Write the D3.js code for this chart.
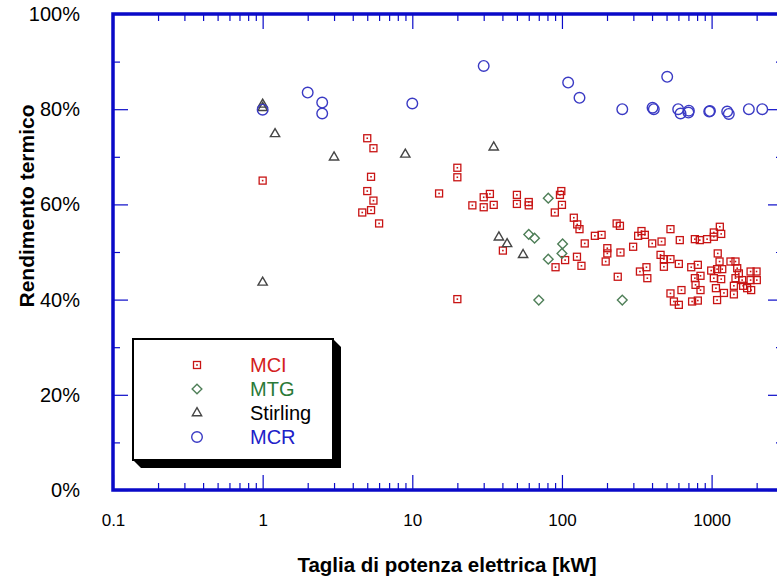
<!DOCTYPE html>
<html>
<head>
<meta charset="utf-8">
<script src="https://cdn.jsdelivr.net/npm/d3@7/dist/d3.min.js"></script>
<style>
html,body{margin:0;padding:0;background:#fff;}
svg{display:block;font-family:Arial,"Liberation Sans",sans-serif;}
</style>
</head>
<body>
<svg id="chart" width="777" height="579"></svg>
<script>
// ---- data (x = kW, y = %) ----
const seriesNames = ["MCI", "MTG", "Stirling", "MCR"];
const mciPoints = [
  [1.0,65],[5.0,73.9],[5.5,71.8],[5.3,65.8],[5.0,62.8],[5.5,60.8],[5.3,58.8],[4.63,58.3],[6.0,56],
  [15.1,62.3],[20,67.7],[20,65.7],[20,40.1],[25.2,59.8],[30,61.5],[33,62.2],[30,59.4],[35,59.9],
  [50,62],[50,60.1],[40.3,50.3],[60,60.5],[60,59.8],[99,62.8],[97,62],[100,59.9],[89.6,58.3],
  [120,57.2],[126.5,55.8],[131,54.8],[142,51.8],[166,53.4],[184,53.6],[201,50.8],[201,49.7],[196,48],
  [232,56],[244,55.5],[246,49.9],[236,44.8],[126,49],[135,47.1],[105,48.3],[90.6,46.8],
  [299,51.1],[323,53.4],[358,53.6],[340,54.4],[401,51.8],[463,52.2],[531,54.8],[613,52.5],[834,52.5],
  [773,52.7],[933,52.7],[1035,53.2],[1035,54.1],[1135,55.3],[1159,53.8],
  [332,45.9],[367,46.8],[372,44.5],[456,49.4],[480,48.5],[531,48.5],[480,46.9],[604,47.5],[731,46.8],
  [809,47.3],[773,44.5],[843,45],[781,43.1],[843,42],[531,41.3],[560,39.6],[604,38.9],[629,42],
  [741,39.6],[809,39.8],[1088,39.9],[1099,49.7],[1130,48],[994,46.1],[1088,46.4],[1178,46.4],
  [1035,44.5],[1159,44.3],[1069,42.4],[1209,41.4],[1409,41.1],[1337,48],[1444,48],[1483,46.6],
  [1521,45.5],[1444,44.5],[1409,42.9],[1600,44.1],[1624,42.9],[1728,42.4],[1838,42],[1822,45.9],
  [1997,45.9],[1822,44.1],[2005,44.1]
];
const mtgPoints = [
  [81,61.3],[60,53.7],[65.6,52.9],[101,51.7],[81,48.5],[100,49.7],[70,39.9],[253,39.9]
];
const stirlingPoints = [
  [1.0,81],[1.0,80.3],[1.21,74.8],[3.0,69.9],[8.98,70.5],[35,72],[37.9,53.1],[43,51.7],[55,49.4],[1.0,43.6]
];
const mcrPoints = [
  [1.0,79.9],[2,83.5],[2.5,81.4],[2.5,79.1],[10,81.2],[30,89.1],[110,85.6],[131,82.4],[253,80],
  [403,80.3],[411,80],[505,86.8],[598,80],[620,79.1],[705,79.7],[700,79.3],[964,79.5],[975,79.6],
  [1271,79.5],[1303,79],[1774,80],[2180,80]
];
const xMajorTicks = [0.1, 1, 10, 100, 1000];
const xTickLabels = ["0.1", "1", "10", "100", "1000"];
const yMajorTicks = [0, 20, 40, 60, 80, 100];
const yTickLabels = ["0%", "20%", "40%", "60%", "80%", "100%"];
const yMinorTicks = [10, 30, 50, 70, 90];
const xTitle = "Taglia di potenza elettrica [kW]";
const yTitle = "Rendimento termico";

// ---- layout ----
const L = 113, T = 14, R = 783, B = 490;
const axisBlue = "#0a0ac8";
const svg = d3.select("#chart");

const x = d3.scaleLog().domain([0.1, 3000]).range([L, R]);
const y = d3.scaleLinear().domain([0, 100]).range([B, T]);

const xMinorTicks = [];
[0.1, 1, 10, 100, 1000].forEach(d => { for (let m = 2; m <= 9; m++) { const v = d * m; if (v <= 3000) xMinorTicks.push(v); } });

function styleAxis(g) {
  g.select(".domain").remove();
  g.selectAll(".tick line").attr("stroke", axisBlue).attr("stroke-width", 1.2);
}

// bottom axis (ticks inward)
svg.append("g").attr("transform", `translate(0,${B})`)
  .call(d3.axisBottom(x).tickValues(xMajorTicks).tickSizeInner(-15).tickSizeOuter(0).tickFormat((d, i) => xTickLabels[i]).tickPadding(24))
  .call(styleAxis)
  .call(g => g.selectAll("text").attr("fill", "#000").style("font-size", "17px").style("font-family", "Arial, 'Liberation Sans', sans-serif"));
svg.append("g").attr("transform", `translate(0,${B})`)
  .call(d3.axisBottom(x).tickValues(xMinorTicks).tickSizeInner(-7).tickSizeOuter(0).tickFormat(""))
  .call(styleAxis);
// top axis
svg.append("g").attr("transform", `translate(0,${T})`)
  .call(d3.axisTop(x).tickValues(xMajorTicks).tickSizeInner(-15).tickSizeOuter(0).tickFormat(""))
  .call(styleAxis);
svg.append("g").attr("transform", `translate(0,${T})`)
  .call(d3.axisTop(x).tickValues(xMinorTicks).tickSizeInner(-7).tickSizeOuter(0).tickFormat(""))
  .call(styleAxis);
// left axis
svg.append("g").attr("transform", `translate(${L},0)`)
  .call(d3.axisLeft(y).tickValues(yMajorTicks).tickSizeInner(-15).tickSizeOuter(0).tickFormat((d, i) => yTickLabels[i]).tickPadding(33))
  .call(styleAxis)
  .call(g => g.selectAll("text").attr("fill", "#000").style("font-size", "20px").style("font-family", "Arial, 'Liberation Sans', sans-serif"));
svg.append("g").attr("transform", `translate(${L},0)`)
  .call(d3.axisLeft(y).tickValues(yMinorTicks).tickSizeInner(-7).tickSizeOuter(0).tickFormat(""))
  .call(styleAxis);
// right axis
svg.append("g").attr("transform", `translate(${R},0)`)
  .call(d3.axisRight(y).tickValues(yMajorTicks).tickSizeInner(-15).tickSizeOuter(0).tickFormat(""))
  .call(styleAxis);
svg.append("g").attr("transform", `translate(${R},0)`)
  .call(d3.axisRight(y).tickValues(yMinorTicks).tickSizeInner(-7).tickSizeOuter(0).tickFormat(""))
  .call(styleAxis);

// frame
svg.append("rect").attr("x", L).attr("y", T).attr("width", R - L).attr("height", B - T)
  .attr("fill", "none").attr("stroke", axisBlue).attr("stroke-width", 3.5);

// titles
svg.append("text").attr("x", 447).attr("y", 572).attr("text-anchor", "middle")
  .style("font-size", "20.5px").style("font-weight", "bold").text(xTitle);
svg.append("text").attr("transform", `translate(34,206) rotate(-90)`).attr("text-anchor", "middle")
  .style("font-size", "21px").style("font-weight", "bold").text(yTitle);

// ---- markers ----
const colMCI = "#c81414", colMTG = "#4f7f58", colST = "#454545", colMCR = "#3a3ac4";
const symDiamond = d3.symbol().type(d3.symbolDiamond2).size(60);
const symTri = d3.symbol().type(d3.symbolTriangle2).size(62);

function drawMCI(g, px, py) {
  g.append("rect").attr("x", px - 3.5).attr("y", py - 3.5).attr("width", 7).attr("height", 7)
    .attr("fill", "none").attr("stroke", colMCI).attr("stroke-width", 1.3);
  g.append("rect").attr("x", px - 0.8).attr("y", py - 0.8).attr("width", 1.6).attr("height", 1.6).attr("fill", colMCI);
}
function drawMTG(g, px, py) {
  g.append("path").attr("d", symDiamond()).attr("transform", `translate(${px},${py})`)
    .attr("fill", "none").attr("stroke", colMTG).attr("stroke-width", 1.4);
}
function drawST(g, px, py) {
  g.append("path").attr("d", symTri()).attr("transform", `translate(${px},${py})`)
    .attr("fill", "none").attr("stroke", colST).attr("stroke-width", 1.4);
}
function drawMCR(g, px, py) {
  g.append("circle").attr("cx", px).attr("cy", py).attr("r", 5.3)
    .attr("fill", "none").attr("stroke", colMCR).attr("stroke-width", 1.4);
}

const pts = svg.append("g");
mciPoints.forEach(d => drawMCI(pts, x(d[0]), y(d[1])));
mtgPoints.forEach(d => drawMTG(pts, x(d[0]), y(d[1])));
stirlingPoints.forEach(d => drawST(pts, x(d[0]), y(d[1])));
mcrPoints.forEach(d => drawMCR(pts, x(d[0]), y(d[1])));

// ---- legend ----
const lg = svg.append("g");
const bx = 133, by = 339, bw = 200, bh = 121, sh = 8;
lg.append("path").attr("d", `M${bx},${by + bh} L${bx + sh},${by + bh + sh} L${bx + bw + sh},${by + bh + sh} L${bx + bw + sh},${by + sh} L${bx + bw},${by} Z`)
  .attr("fill", "#000");
lg.append("rect").attr("x", bx).attr("y", by).attr("width", bw).attr("height", bh)
  .attr("fill", "#fff").attr("stroke", "#000").attr("stroke-width", 2);
const legendColors = ["#d42020", "#2b7a38", "#000", "#2020c8"];
const legendRows = [365, 389, 413, 437];
const drawers = [drawMCI, drawMTG, drawST, drawMCR];
seriesNames.forEach((n, i) => {
  drawers[i](lg, 197, legendRows[i]);
  lg.append("text").attr("x", 250).attr("y", legendRows[i] + 7).style("font-size", "20px")
    .attr("fill", legendColors[i]).text(n);
});
</script>
</body>
</html>
